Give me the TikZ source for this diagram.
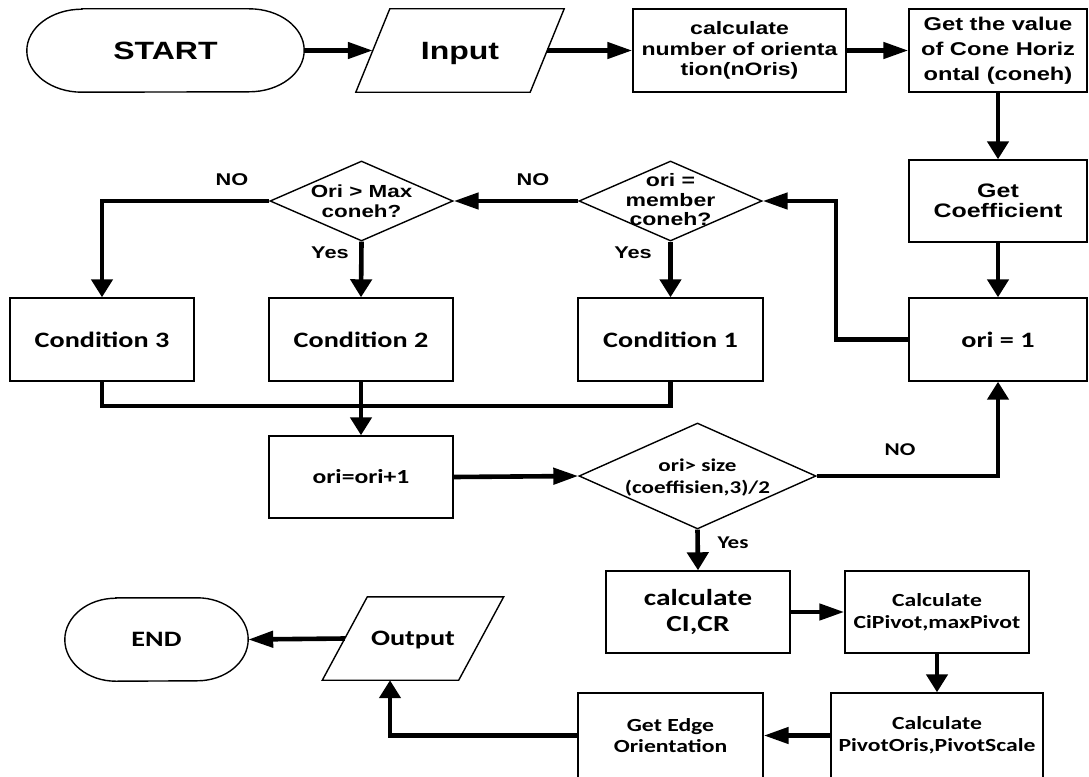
\documentclass[tikz,border=0pt]{standalone}
\usepackage{fontspec}
\usetikzlibrary{arrows.meta,shapes.geometric}
\newfontfamily\fa[FakeStretch=1.28]{Liberation Sans}
\newfontfamily\fc[FakeStretch=1.28]{Carlito}
\newcommand\fsz[2]{\fontsize{#1}{#2}\selectfont}
\begin{document}
\begin{tikzpicture}[x=1pt,y=-1pt,
  outl/.style={line width=1.4pt},
  box/.style={draw=black, outl, rectangle, inner sep=0pt, align=center},
  plain/.style={draw=none, rectangle, inner sep=0pt, align=center, text depth=0pt},
  dia/.style={draw=black, outl, diamond, inner sep=0pt},
  lab/.style={inner sep=0pt, align=center},
  conn/.style={line width=4.6pt},
  harr/.style={conn, -{Triangle[length=25pt,width=16pt]}},
  varr/.style={conn, -{Triangle[length=18pt,width=21pt]}},
  fA/.style={font=\fa\bfseries\fsz{#1}{20.3}},
  fC/.style={font=\fc\bfseries\fsz{#1}{22}}
]
\useasboundingbox (0,0) rectangle (1089,776);
\fill[white] (0,0) rectangle (1089,776);

% ---- top row
\node[plain, minimum width=277pt, minimum height=83pt, fA=25] (start) at (165.5,50.5) {START};
\draw[outl] ([xshift=55pt]start.north west) -- ([xshift=-55pt]start.north east)
  arc[start angle=90,end angle=-90,x radius=55pt,y radius=41.5pt]
  -- ([xshift=55pt]start.south west)
  arc[start angle=270,end angle=90,x radius=55pt,y radius=41.5pt] -- cycle;

\node[plain, minimum width=174pt, minimum height=83pt, fA=25] (input) at (460,50.5) {Input};
\draw[outl] ([xshift=17pt]input.north west) -- ([xshift=17pt]input.north east)
  -- ([xshift=-17pt]input.south east) -- ([xshift=-17pt]input.south west) -- cycle;

\node[box, minimum width=213pt, minimum height=83pt, fA=18] (calc) at (739.5,50.5)
  {calculate\\number of orienta\\tion(nOris)};
\node[box, minimum width=178pt, minimum height=83pt, font=\fa\bfseries\fsz{18.5}{25}] (getval) at (998,50.5)
  {Get the value\\of Cone Horiz\\ontal (coneh)};

% ---- right column
\node[box, minimum width=178pt, minimum height=82pt, fA=19.5] (getcoef) at (998,201) {Get\\Coefficient};
\node[box, minimum width=178pt, minimum height=83pt, fC=22] (ori1) at (998,339.5) {ori = 1};

% ---- decisions
\node[dia, minimum width=183pt, minimum height=80pt] (dm1) at (670.5,201) {};
\node[lab, font=\fa\bfseries\fsz{18}{19.5}] (dm1t) at (670.5,200) {ori =\\member\\coneh?};
\node[dia, minimum width=183pt, minimum height=80pt] (dm2) at (361.5,201) {};
\node[lab, font=\fa\bfseries\fsz{17.5}{20}] (dm2t) at (361.5,201) {Ori > Max\\coneh?};

% ---- conditions
\node[box, minimum width=184pt, minimum height=83pt, fC=22] (cond3) at (102,339.5) {Condition 3};
\node[box, minimum width=184pt, minimum height=83pt, fC=22] (cond2) at (361,339.5) {Condition 2};
\node[box, minimum width=185pt, minimum height=83pt, fC=22] (cond1) at (670.5,339.5) {Condition 1};

\node[box, minimum width=184pt, minimum height=82pt, fC=20] (orip) at (361,477) {ori=ori+1};
\node[dia, minimum width=237pt, minimum height=106pt] (dm3) at (697.5,476) {};
\node[lab, font=\fc\bfseries\fsz{18}{21.5}] (dm3t) at (697.5,477.5) {ori> size\\(coeffisien,3)/2};

% ---- bottom
\node[box, minimum width=184pt, minimum height=82pt, font=\fc\bfseries\fsz{23}{26}] (calcci) at (698,612) {calculate\\CI,CR};
\node[box, minimum width=184pt, minimum height=82pt, font=\fc\bfseries\fsz{18.5}{21.7}] (cipiv) at (937,612) {Calculate\\CiPivot,maxPivot};
\node[box, minimum width=212pt, minimum height=85pt, font=\fc\bfseries\fsz{18.5}{21.7}] (pivor) at (937,735.5) {Calculate\\PivotOris,PivotScale};
\node[box, minimum width=185pt, minimum height=85pt, font=\fc\bfseries\fsz{18.5}{21.7}] (getedge) at (670.5,735.5) {Get Edge\\Orientation};

\node[plain, minimum width=136pt, minimum height=83pt, fC=22] (output) at (413,638.5) {Output};
\draw[outl] ([xshift=22.5pt]output.north west) -- ([xshift=22.5pt]output.north east)
  -- ([xshift=-22.5pt]output.south east) -- ([xshift=-22.5pt]output.south west) -- cycle;

\node[plain, minimum width=183pt, minimum height=83pt, fC=22] (end) at (156.5,639.5) {END};
\draw[outl] ([xshift=51pt]end.north west) -- ([xshift=-51pt]end.north east)
  arc[start angle=90,end angle=-90,x radius=51pt,y radius=41.5pt]
  -- ([xshift=51pt]end.south west)
  arc[start angle=270,end angle=90,x radius=51pt,y radius=41.5pt] -- cycle;

% ---- labels
\node[lab, fA=17] (no1) at (232,180) {NO};
\node[lab, fA=17] (no2) at (533,180) {NO};
\node[lab, fA=17] (yes1) at (330,253) {Yes};
\node[lab, fA=17] (yes2) at (633,253) {Yes};
\node[lab, fC=18] (no3) at (900,450) {NO};
\node[lab, fC=18] (yes3) at (733,543) {Yes};

% ---- connectors
\draw[harr] (start.east) -- (input.west);
\draw[harr] (input.east) -- (calc.west);
\draw[harr] (calc.east) -- (getval.west);
\draw[varr] (getval.south) -- (getcoef.north);
\draw[varr] (getcoef.south) -- (ori1.north);
\coordinate (k1) at (836,201);
\draw[harr] (ori1.west) -| (k1) -- (dm1.east);
\draw[harr] (dm1.west) -- (dm2.east);
\draw[varr] (dm2.west) -| (cond3.north);
\draw[varr] (dm2.south) -- (cond2.north);
\draw[varr] (dm1.south) -- (cond1.north);
\coordinate (m) at (361,406);
\draw[conn] (cond3.south) |- (m) -| (cond1.south);
\draw[varr] (cond2.south) -- (orip.north);
\draw[harr] (orip.east) -- (dm3.west);
\draw[varr] (dm3.east) -| (ori1.south);
\draw[varr] (dm3.south) -- (calcci.north);
\draw[harr] (calcci.east) -- (cipiv.west);
\draw[varr] (cipiv.south) -- (pivor.north);
\draw[harr] (pivor.west) -- (getedge.east);
\draw[varr] (getedge.west) -| ([xshift=-23pt]output.south);
\draw[harr] (output.west) -- (end.east);
\end{tikzpicture}
\end{document}
